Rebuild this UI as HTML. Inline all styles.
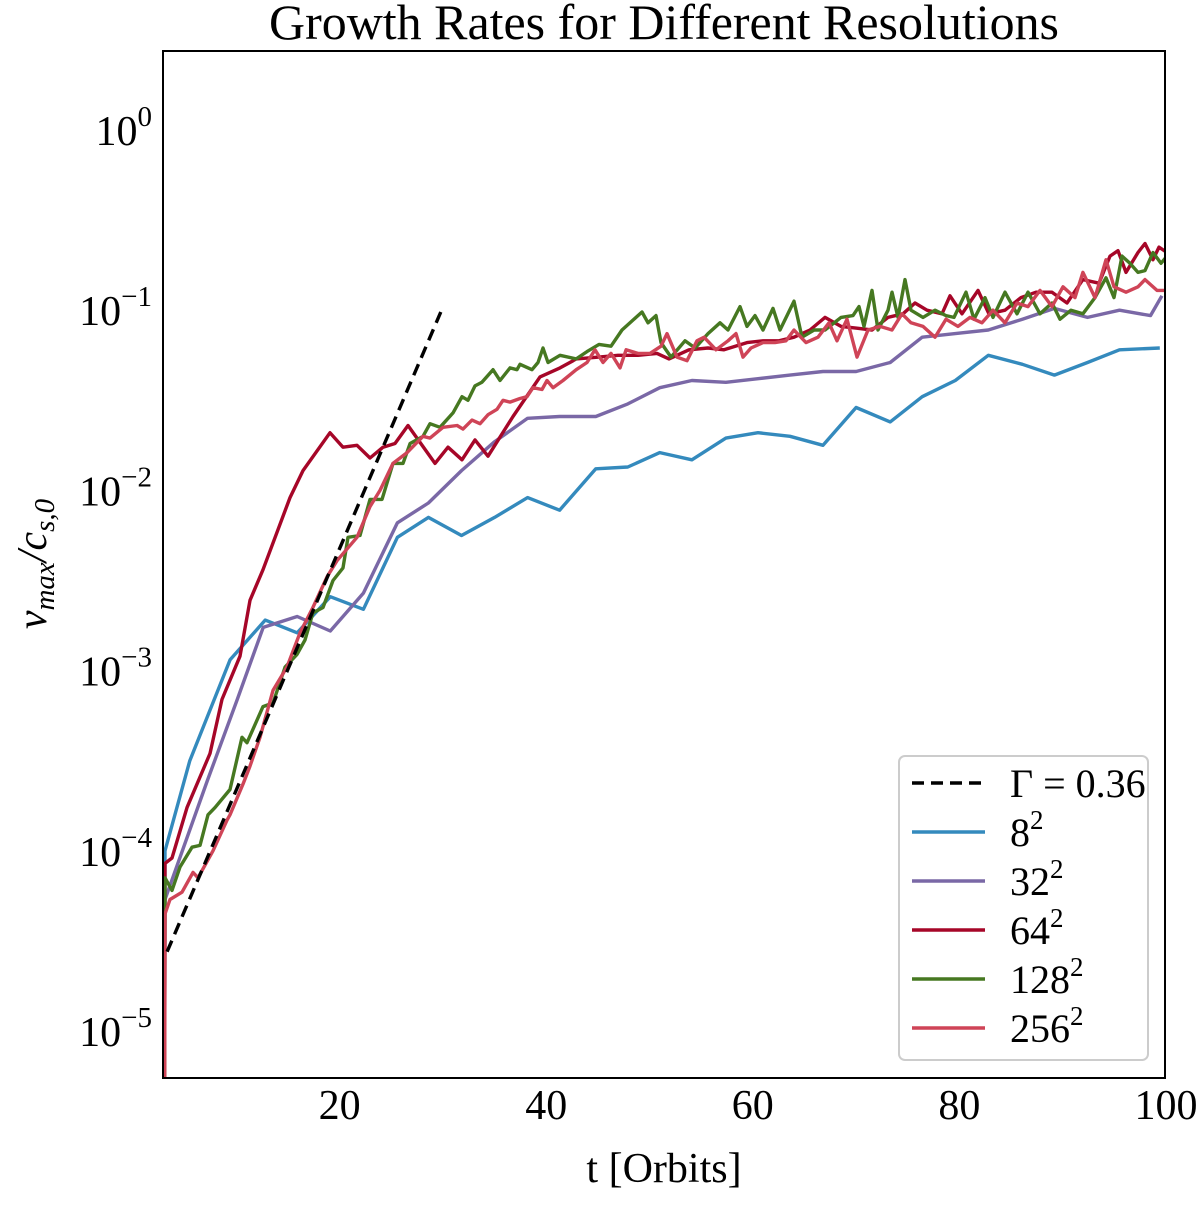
<!DOCTYPE html>
<html><head><meta charset="utf-8"><style>
body{margin:0;background:#fff;}
svg text{font-family:"Liberation Serif",serif;fill:#000;}
</style></head><body>
<svg id="chart" width="1200" height="1202" viewBox="0 0 1200 1202" xmlns="http://www.w3.org/2000/svg">
<text x="664" y="39" font-size="50" text-anchor="middle" textLength="790" lengthAdjust="spacingAndGlyphs">Growth Rates for Different Resolutions</text>
<defs><clipPath id="clip"><rect x="163" y="51" width="1002" height="1027"/></clipPath></defs>
<g id="xticks"></g><g id="yticks"></g>
<g id="series" clip-path="url(#clip)"></g>
<rect x="163" y="51" width="1002" height="1027" fill="none" stroke="#000" stroke-width="2"/>
<text x="664" y="1182" font-size="42" text-anchor="middle">t [Orbits]</text>
<text transform="translate(46,564) rotate(-90)" font-size="42" text-anchor="middle" font-style="italic">v<tspan font-size="29" dy="8">max</tspan><tspan dy="-8">/c</tspan><tspan font-size="29" dy="8">s,0</tspan></text>
<g id="legend">
<rect x="899" y="756" width="249" height="304" rx="6" fill="#fff" stroke="#ccc" stroke-width="2"/>
</g>
</svg>
<script>
const xTicks=[20,40,60,80,100];
const yTickExps=[0,-1,-2,-3,-4,-5];
const fitT=[3.3,29.8];
const fitL=[-4.56,-1.01];
const blueT=[3.05,3.1,5.5,9.4,12.8,15.9,19.1,22.3,25.6,28.6,31.8,35.0,38.2,41.3,44.8,47.9,51.0,54.1,57.4,60.5,63.6,66.8,70.0,73.3,76.4,79.6,82.8,86.1,89.2,92.4,95.5,99.4];
const blueL=[-6,-4.00,-3.50,-2.94,-2.72,-2.79,-2.59,-2.66,-2.26,-2.15,-2.25,-2.15,-2.04,-2.11,-1.88,-1.87,-1.79,-1.83,-1.71,-1.68,-1.70,-1.75,-1.54,-1.62,-1.48,-1.39,-1.25,-1.30,-1.36,-1.29,-1.22,-1.21];
const purpleT=[3.05,3.1,7.2,10.1,12.6,15.9,19.1,22.3,25.6,28.6,31.8,35.0,38.2,41.3,44.8,47.9,51.0,54.1,57.4,60.5,63.6,66.8,70.0,73.3,76.4,79.6,82.8,86.1,89.2,92.4,95.5,98.5,99.6];
const purpleL=[-6,-4.27,-3.61,-3.16,-2.76,-2.70,-2.78,-2.57,-2.18,-2.07,-1.89,-1.73,-1.60,-1.59,-1.59,-1.52,-1.43,-1.39,-1.40,-1.38,-1.36,-1.34,-1.34,-1.29,-1.15,-1.13,-1.11,-1.05,-0.99,-1.04,-1.00,-1.03,-0.92];
const redT=[3.05,3.10,3.78,5.23,7.45,8.62,10.36,11.33,12.58,15.20,16.46,19.07,20.33,21.68,22.94,24.20,25.36,26.62,29.24,30.49,31.85,33.11,34.37,36.79,39.40,41.34,42.60,42.90,45.11,46.95,48.89,50.73,51.89,53.82,55.66,57.21,59.44,61.00,62.54,63.99,65.54,66.99,68.54,70.09,71.54,73.09,74.54,75.70,76.86,78.32,79.09,80.25,81.80,82.86,84.41,85.96,87.42,88.96,90.42,91.96,93.51,94.58,95.35,96.13,97.29,97.97,98.74,99.32,100.1];
const redL=[-6,-4.07,-4.04,-3.76,-3.46,-3.16,-2.92,-2.61,-2.44,-2.04,-1.89,-1.68,-1.76,-1.75,-1.82,-1.76,-1.74,-1.64,-1.85,-1.76,-1.83,-1.72,-1.81,-1.59,-1.37,-1.32,-1.28,-1.27,-1.26,-1.25,-1.25,-1.24,-1.27,-1.22,-1.21,-1.22,-1.18,-1.17,-1.17,-1.15,-1.11,-1.04,-1.09,-1.10,-1.11,-1.04,-1.02,-0.96,-1.00,-1.02,-0.92,-1.02,-0.89,-1.02,-1.00,-0.93,-0.90,-0.90,-0.96,-0.83,-0.85,-0.70,-0.67,-0.79,-0.68,-0.63,-0.72,-0.65,-0.68];
const greenT=[3.05,3.10,3.78,4.55,5.71,6.49,7.26,7.94,9.39,10.55,11.04,12.58,13.55,14.72,15.88,16.65,17.42,18.39,19.36,20.33,20.81,21.97,22.94,24.10,25.17,26.14,26.82,28.07,28.75,29.72,30.98,31.85,32.43,33.11,33.78,34.85,35.53,36.50,37.17,37.46,38.63,39.21,39.69,40.17,41.34,42.90,43.95,45.11,46.27,47.34,48.69,49.27,49.85,50.63,51.11,52.08,53.44,54.41,55.66,56.82,57.60,58.76,59.44,60.21,60.99,61.96,62.63,63.99,64.76,65.93,66.99,68.54,69.70,70.28,70.76,71.54,72.12,73.09,73.48,74.06,74.73,75.31,76.48,77.64,78.70,79.48,80.64,81.41,82.48,83.25,84.41,85.58,86.64,87.80,88.96,89.74,90.80,91.96,93.13,94.19,94.97,95.74,96.51,97.29,97.97,98.74,99.52,100.1];
const greenL=[-6,-4.15,-4.22,-4.09,-3.98,-3.97,-3.80,-3.76,-3.66,-3.37,-3.40,-3.20,-3.18,-2.98,-2.91,-2.83,-2.68,-2.65,-2.50,-2.43,-2.26,-2.25,-2.05,-2.05,-1.85,-1.85,-1.74,-1.70,-1.63,-1.65,-1.57,-1.48,-1.50,-1.42,-1.40,-1.33,-1.39,-1.32,-1.33,-1.30,-1.33,-1.29,-1.21,-1.29,-1.25,-1.27,-1.23,-1.19,-1.20,-1.11,-1.04,-1.01,-1.07,-1.03,-1.18,-1.26,-1.17,-1.21,-1.13,-1.07,-1.11,-0.98,-1.09,-1.03,-1.11,-0.99,-1.11,-0.95,-1.15,-1.11,-1.11,-1.04,-1.03,-0.98,-1.09,-0.89,-1.11,-1.00,-0.90,-1.04,-0.83,-1.00,-1.04,-1.00,-1.03,-1.04,-0.90,-1.05,-0.93,-1.04,-0.90,-1.02,-0.90,-1.02,-0.96,-1.05,-1.00,-1.02,-0.93,-0.82,-0.93,-0.70,-0.74,-0.79,-0.78,-0.68,-0.74,-0.70];
const pinkT=[3.05,3.10,3.58,4.74,5.81,6.29,7.74,9.10,9.39,10.65,11.33,12.29,13.55,14.91,16.17,17.42,18.78,19.75,21.68,22.94,23.91,25.17,26.53,28.07,28.75,30.01,31.37,31.95,32.82,33.59,34.37,35.24,35.82,36.50,37.46,38.14,38.72,39.59,40.08,40.66,41.63,42.90,43.95,44.72,45.50,46.27,47.14,47.73,48.89,50.05,51.11,51.69,52.66,53.63,54.60,55.28,56.44,57.60,58.37,59.05,59.83,60.99,62.15,63.21,63.99,65.15,66.31,67.38,68.15,69.12,70.09,71.15,72.31,73.48,74.44,75.31,76.48,77.64,78.70,79.86,81.03,82.19,83.25,84.41,85.58,86.64,87.80,88.96,90.03,91.19,91.96,93.13,94.19,94.97,96.13,97.29,97.97,99.13,100.1];
const pinkL=[-6,-4.35,-4.27,-4.23,-4.12,-4.15,-4.00,-3.83,-3.80,-3.63,-3.53,-3.37,-3.11,-2.98,-2.79,-2.65,-2.48,-2.39,-2.26,-2.09,-2.00,-1.85,-1.79,-1.70,-1.71,-1.65,-1.64,-1.66,-1.61,-1.63,-1.58,-1.55,-1.50,-1.51,-1.49,-1.48,-1.43,-1.44,-1.39,-1.43,-1.39,-1.33,-1.29,-1.22,-1.29,-1.24,-1.32,-1.22,-1.24,-1.24,-1.20,-1.13,-1.26,-1.28,-1.17,-1.15,-1.22,-1.17,-1.13,-1.26,-1.21,-1.18,-1.18,-1.17,-1.11,-1.18,-1.15,-1.07,-1.17,-1.05,-1.26,-1.11,-1.09,-1.11,-1.02,-1.07,-1.09,-1.15,-1.05,-1.09,-1.04,-1.07,-1.00,-1.07,-0.96,-0.98,-0.89,-0.98,-0.87,-0.93,-0.79,-0.93,-0.72,-0.87,-0.90,-0.87,-0.83,-0.89,-0.89];
const legendLabels=["Γ = 0.36","8","32","64","128","256"];

const NS="http://www.w3.org/2000/svg";
const X=t=>133+(t)*10.33;
const Y=l=>130-l*180.2;
function mk(tag,attrs,parent){const e=document.createElementNS(NS,tag);for(const k in attrs)e.setAttribute(k,attrs[k]);parent.appendChild(e);return e;}
const xg=document.getElementById('xticks');
xTicks.forEach(v=>{const t=mk('text',{x:X(v),y:1119,'font-size':42,'text-anchor':'middle'},xg);t.textContent=v;

});
const yg=document.getElementById('yticks');
yTickExps.forEach(e=>{const t=mk('text',{x:152,y:Y(e)+15,'font-size':42,'text-anchor':'end'},yg);


t.appendChild(document.createTextNode('10'));const s=mk('tspan',{'font-size':29,dy:-19},t);s.textContent=e===0?'0':'−'+(-e);});
const sg=document.getElementById('series');
function line(ts,ls,color,name,dash){const p=mk('path',{d:ts.map((t,i)=>(i?'L':'M')+X(t).toFixed(1)+' '+Y(ls[i]).toFixed(1)).join(' '),fill:'none',stroke:color,'stroke-width':3.4,'stroke-linejoin':'round'},sg);
if(dash)p.setAttribute('stroke-dasharray',dash);

}
line(blueT,blueL,'#348ABD','series-8');
line(purpleT,purpleL,'#7A68A6','series-32');
line(redT,redL,'#A60628','series-64');
line(greenT,greenL,'#467821','series-128');
line(pinkT,pinkL,'#CF4457','series-256');
line(fitT,fitL,'#000','fit-line-gamma','12 7');
const lg=document.getElementById('legend');
const colors=['#000','#348ABD','#7A68A6','#A60628','#467821','#CF4457'];
legendLabels.forEach((lab,i)=>{const y=783+i*49;
const l=mk('line',{x1:912,x2:985,y1:y,y2:y,stroke:colors[i],'stroke-width':3.4},lg);
if(i===0)l.setAttribute('stroke-dasharray','12 7');


const t=mk('text',{x:1010,y:y+14,'font-size':40},lg);t.textContent=lab;


if(i>0){const s=mk('tspan',{'font-size':27,dy:-17},t);s.textContent='2';}});
</script>
</body></html>
